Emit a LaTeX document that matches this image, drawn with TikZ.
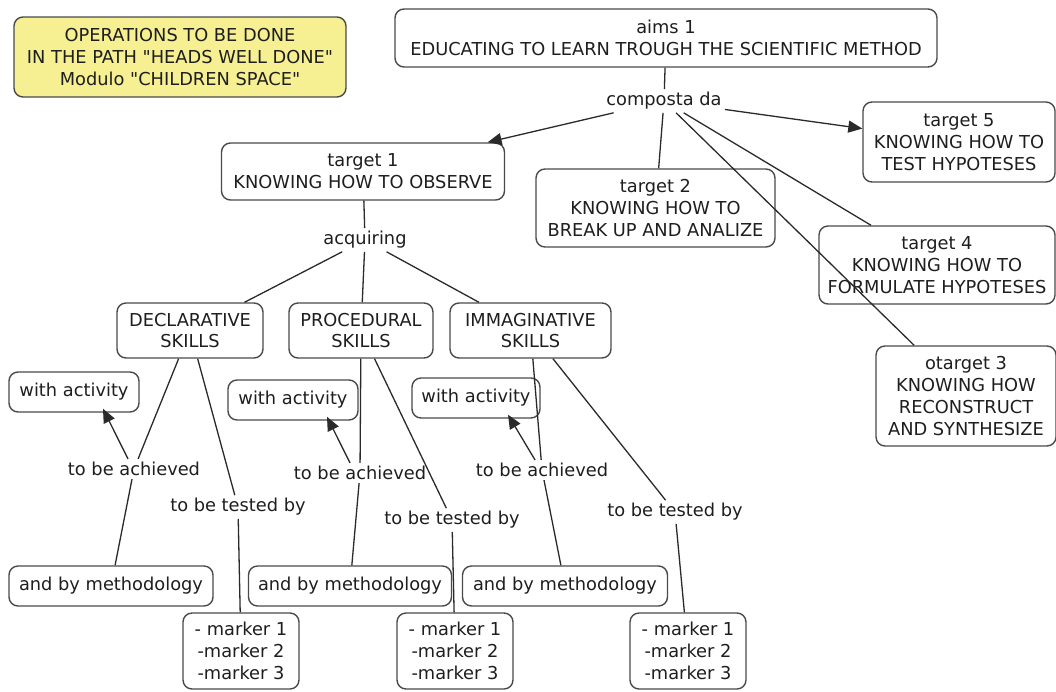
\documentclass[tikz,border=0pt]{standalone}
\usepackage{fontspec}
\setmainfont{DejaVu Sans}[Ligatures=TeXOff]
\usetikzlibrary{arrows.meta}
\definecolor{boxline}{HTML}{4A4A4A}
\definecolor{txt}{HTML}{1E1E1E}
\definecolor{linecol}{HTML}{2A2A2A}
\definecolor{titlefill}{RGB}{246,240,146}
\begin{document}
\begin{tikzpicture}[x=1pt,y=-1pt,
  every node/.style={font=\fontsize{17.8}{21.8}\selectfont, text=txt},
  cbox/.style={draw=boxline, line width=1.4pt, rounded corners=9pt, align=center,
    inner xsep=4pt, inner ysep=3pt},
  lbl/.style={inner sep=3pt},
  link/.style={draw=linecol, line width=1.3pt},
  arr/.style={link, -{Triangle[length=14pt,width=12pt]}}]
\useasboundingbox (0,0) rectangle (1056,691);

% boxes
\node[cbox, fill=titlefill, minimum width=332pt, minimum height=80pt] (title) at (180,57)
  {OPERATIONS TO BE DONE\\IN THE PATH "HEADS WELL DONE"\\Modulo "CHILDREN SPACE"};
\node[cbox, minimum width=542pt, minimum height=58pt] (aims) at (666,38)
  {aims 1\\EDUCATING TO LEARN TROUGH THE SCIENTIFIC METHOD};
\node[cbox, minimum width=192pt, minimum height=80pt] (t5) at (959,142)
  {target 5\\KNOWING HOW TO\\TEST HYPOTESES};
\node[cbox, minimum width=283pt, minimum height=57pt] (t1) at (363,171.5)
  {target 1\\KNOWING HOW TO OBSERVE};
\node[cbox, minimum width=239pt, minimum height=78pt] (t2) at (655.5,208)
  {target 2\\KNOWING HOW TO\\BREAK UP AND ANALIZE};
\node[cbox, minimum width=236pt, minimum height=78pt] (t4) at (937,265)
  {target 4\\KNOWING HOW TO\\FORMULATE HYPOTESES};
\node[cbox, minimum width=180pt, minimum height=100pt] (t3) at (966,396)
  {otarget 3\\KNOWING HOW\\RECONSTRUCT\\AND SYNTHESIZE};

\node[cbox, minimum width=146pt, minimum height=55pt] (decl) at (190,330.5) {DECLARATIVE\\SKILLS};
\node[cbox, minimum width=144pt, minimum height=55pt] (proc) at (361,330.5) {PROCEDURAL\\SKILLS};
\node[cbox, minimum width=161pt, minimum height=55pt] (imm) at (530.5,330.5) {IMMAGINATIVE\\SKILLS};

\node[cbox, minimum width=130pt, minimum height=40pt] (wa1) at (74,392) {with activity};
\node[cbox, minimum width=130pt, minimum height=40pt] (wa2) at (293,400) {with activity};
\node[cbox, minimum width=128pt, minimum height=40pt] (wa3) at (476,398) {with activity};

\node[cbox, minimum width=204pt, minimum height=40pt] (m1) at (111,586) {and by methodology};
\node[cbox, minimum width=203pt, minimum height=40pt] (m2) at (350,586) {and by methodology};
\node[cbox, minimum width=205pt, minimum height=40pt] (m3) at (565,586) {and by methodology};

\node[cbox, minimum width=116pt, minimum height=76pt] (k1) at (241,651) {- marker 1\\-marker 2\\-marker 3};
\node[cbox, minimum width=116pt, minimum height=76pt] (k2) at (455,651) {- marker 1\\-marker 2\\-marker 3};
\node[cbox, minimum width=116pt, minimum height=76pt] (k3) at (688,651) {- marker 1\\-marker 2\\-marker 3};

% linking phrases
\node[lbl] (comp) at (664,101) {composta da};
\node[lbl] (acq) at (365,240) {acquiring};
\node[lbl] (a1) at (134,469) {to be achieved};
\node[lbl] (a2) at (360,473) {to be achieved};
\node[lbl] (a3) at (542,470) {to be achieved};
\node[lbl] (s1) at (238,507) {to be tested by};
\node[lbl] (s2) at (452,520) {to be tested by};
\node[lbl] (s3) at (675,512) {to be tested by};

% connectors
\draw[link] (aims) -- (comp);
\draw[arr] (comp) -- (t1);
\draw[arr] (comp) -- (t5);
\draw[link] (comp) -- (t2);
\draw[link] (comp) -- (t4);
\draw[link] (comp) -- (t3);

\draw[link] (t1) -- (acq);
\draw[link] (acq) -- (decl);
\draw[link] (acq) -- (proc);
\draw[link] (acq) -- (imm);

\draw[link] (decl) -- (a1);
\draw[arr] ([xshift=-6pt]a1.north) -- ([xshift=29pt,yshift=4pt]wa1.south);
\draw[link] (a1) -- (m1);
\draw[link] (decl) -- (s1);
\draw[link] (s1) -- (k1);

\draw[link] (proc) -- (a2);
\draw[arr] ([xshift=-10pt]a2.north) -- ([xshift=34pt,yshift=4pt]wa2.south);
\draw[link] (a2) -- (m2);
\draw[link] (proc) -- (s2);
\draw[link] (s2) -- (k2);

\draw[link] (imm) -- (a3);
\draw[arr] ([xshift=-7pt]a3.north) -- ([xshift=32pt,yshift=4pt]wa3.south);
\draw[link] (a3) -- (m3);
\draw[link] (imm) -- (s3);
\draw[link] (s3) -- (k3);
\end{tikzpicture}
\end{document}
